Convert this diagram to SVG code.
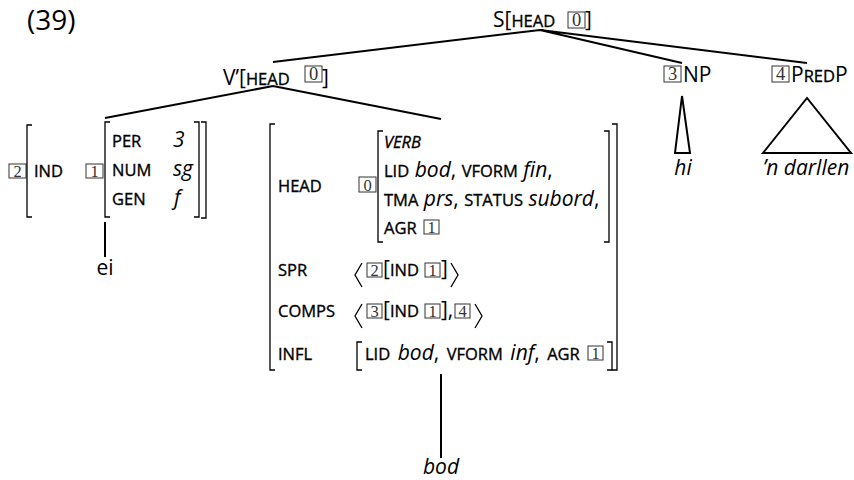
<svg xmlns="http://www.w3.org/2000/svg" width="854" height="480" viewBox="0 0 854 480">
<style>
text{font-family:"Open Sans","Noto Sans",sans-serif;font-size:21px;fill:#000}
.sc{font-size:16.5px;stroke:#000;stroke-width:0.35}
.it{font-style:italic}
.bx{fill:none;stroke:#333;stroke-width:1}
.bn{font-family:"Liberation Serif",serif;font-size:16.5px;fill:#333;text-anchor:middle;stroke:none}
.bnl{font-family:"Liberation Serif",serif;font-size:18.5px;fill:#333;text-anchor:middle}
.br{fill:none;stroke:#000;stroke-width:1.3}
.ln{fill:none;stroke:#000;stroke-width:2}
</style>
<rect width="854" height="480" fill="#fff"/>
<text x="27" y="30" style="font-size:28px">(39)</text>

<g id="connectors">
<path class="ln" d="M540 30 L273 62 M540 30 L682 63 M540 30 L807 63"/>
<path class="ln" d="M273 86 L105 118 M273 86 L441 119"/>
<path class="ln" d="M105 222 V257"/>
<path class="ln" d="M441 374 V458"/>
<path class="ln" d="M682 96 L675 153 H690 Z"/>
<path class="ln" d="M807 98 L763 153 H851 Z"/>
</g>

<g id="S">
<text x="493" y="27">S[<tspan class="sc">HEAD</tspan></text>
<rect class="bx" x="568" y="12" width="17" height="16"/>
<text class="bnl" x="576.5" y="26">0</text>
<text x="585" y="27">]</text>
</g>

<g id="Vbar">
<text x="223" y="85">V’[<tspan class="sc">HEAD</tspan></text>
<rect class="bx" x="305" y="66" width="17" height="16"/>
<text class="bnl" x="313.5" y="80">0</text>
<text x="322" y="85">]</text>
</g>

<g id="NP">
<rect class="bx" x="664" y="66" width="17" height="16"/>
<text class="bnl" x="672.5" y="80">3</text>
<text x="683" y="82">NP</text>
</g>

<g id="PredP">
<rect class="bx" x="772" y="66" width="17" height="16"/>
<text class="bnl" x="780.5" y="80">4</text>
<text x="791" y="82">P<tspan class="sc">RED</tspan>P</text>
</g>

<g id="hi"><text class="it" x="683" y="175" text-anchor="middle">hi</text></g>
<g id="darllen"><text class="it" x="806" y="175" text-anchor="middle">’n darllen</text></g>

<g id="ind">
<rect class="bx" x="9" y="164" width="17" height="14"/>
<text class="bn" x="17.5" y="176.5">2</text>
<path class="br" d="M32 125 H27 V217 H32"/>
<text class="sc" x="34" y="177">IND</text>
<rect class="bx" x="86" y="164" width="17" height="14"/>
<text class="bn" x="94.5" y="176.5">1</text>
<path class="br" d="M110 122 H105 V217 H110"/>
<text class="sc" x="112" y="147">PER</text>
<text class="it" x="173" y="147">3</text>
<text class="sc" x="112" y="176">NUM</text>
<text class="it" x="173" y="176">sg</text>
<text class="sc" x="112" y="205">GEN</text>
<text class="it" x="174" y="205">f</text>
<path class="br" d="M194 122 H199 V217 H194"/>
<path class="br" d="M201 122 H206 V218 H201"/>
</g>

<g id="ei"><text x="105" y="275" text-anchor="middle">ei</text></g>

<g id="verb">
<path class="br" d="M275 124 H270 V370 H275"/>
<path class="br" d="M612 124 H617 V370 H612"/>
<text class="sc" x="278" y="192">HEAD</text>
<rect class="bx" x="359" y="177" width="17" height="15"/>
<text class="bn" x="367.5" y="190.5">0</text>
<path class="br" d="M383 131 H378 V242 H383"/>
<path class="br" d="M604 131 H609 V242 H604"/>
<text class="sc it" x="384" y="148">VERB</text>
<text x="384" y="177"><tspan class="sc">LID</tspan> <tspan class="it">bod</tspan>, <tspan class="sc">VFORM</tspan> <tspan class="it">fin</tspan>,</text>
<text x="384" y="206"><tspan class="sc">TMA</tspan> <tspan class="it">prs</tspan>, <tspan class="sc">STATUS</tspan> <tspan class="it">subord</tspan>,</text>
<text class="sc" x="384" y="234">AGR</text>
<rect class="bx" x="424" y="220" width="15" height="14"/>
<text class="bn" x="431.5" y="232.5">1</text>

<text class="sc" x="278" y="276">SPR</text>
<path class="br" d="M362 263 L355 275 L362 287"/>
<rect class="bx" x="367" y="263" width="15" height="14"/>
<text class="bn" x="374.5" y="275.5">2</text>
<text x="383" y="276">[<tspan class="sc">IND</tspan></text>
<rect class="bx" x="425" y="263" width="15" height="14"/>
<text class="bn" x="432.5" y="275.5">1</text>
<text x="441" y="276">]</text>
<path class="br" d="M451 263 L458 275 L451 287"/>

<text class="sc" x="278" y="317">COMPS</text>
<path class="br" d="M362 304 L355 316 L362 328"/>
<rect class="bx" x="367" y="304" width="15" height="14"/>
<text class="bn" x="374.5" y="316.5">3</text>
<text x="383" y="317">[<tspan class="sc">IND</tspan></text>
<rect class="bx" x="425" y="304" width="15" height="14"/>
<text class="bn" x="432.5" y="316.5">1</text>
<text x="441" y="317">],</text>
<rect class="bx" x="455" y="304" width="15" height="14"/>
<text class="bn" x="462.5" y="316.5">4</text>
<path class="br" d="M475 304 L482 316 L475 328"/>

<text class="sc" x="278" y="360">INFL</text>
<path class="br" d="M362 342 H357 V370 H362"/>
<text x="365" y="360" word-spacing="2"><tspan class="sc">LID</tspan> <tspan class="it">bod</tspan>, <tspan class="sc">VFORM</tspan> <tspan class="it">inf</tspan>, <tspan class="sc">AGR</tspan></text>
<rect class="bx" x="588" y="346" width="15" height="14"/>
<text class="bn" x="595.5" y="358.5">1</text>
<path class="br" d="M607 342 H612 V370 H607"/>
</g>

<g id="bod"><text class="it" x="441" y="474" text-anchor="middle">bod</text></g>
</svg>
